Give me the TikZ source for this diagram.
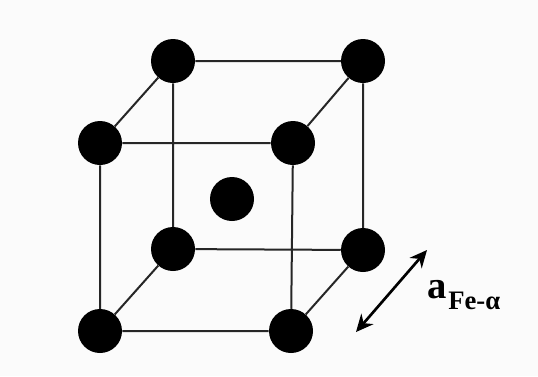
\documentclass[tikz,border=0pt]{standalone}
\usepackage{amsmath}
\usepackage{fontspec}
\setmainfont{Liberation Serif}
\usetikzlibrary{arrows.meta}
\definecolor{paper}{HTML}{FBFBFB}
\tikzset{atom/.style={circle,fill=black,draw=none,minimum size=44pt*0.75,inner sep=0pt},
bond/.style={draw=black!85,line width=1.5pt}}
\begin{document}
\begin{tikzpicture}[x=1pt,y=-1pt,xscale=0.75,yscale=0.75]
\useasboundingbox (0,0) rectangle (538,376);
\fill[paper] (0,0) rectangle (538,376);
\node[atom] (a) at (173,61) {};
\node[atom] (b) at (363,61) {};
\node[atom] (c) at (100,143) {};
\node[atom] (d) at (293,143) {};
\node[atom] (e) at (173,249) {};
\node[atom] (f) at (363,250) {};
\node[atom] (g) at (100,331) {};
\node[atom] (h) at (291,331) {};
\node[atom] (m) at (232,199) {};
\draw[bond] (a)--(b) (a)--(c) (b)--(d) (c)--(d) (a)--(e) (b)--(f) (c)--(g) (d)--(h) (e)--(f) (e)--(g) (f)--(h) (g)--(h);
\coordinate (p) at (427,250);
\coordinate (q) at (356,332);
\draw[line width=2pt,black,{Stealth[length=13pt,width=12pt]}-{Stealth[length=13pt,width=12pt]}] (p)--(q);
\node[anchor=base west,inner sep=0pt,font=\bfseries] (l) at (427,298) {\fontsize{29}{29}\selectfont a};
\node[anchor=base west,inner sep=0pt,font=\bfseries] (s) at (448,309) {\fontsize{20}{20}\selectfont Fe-α};
\end{tikzpicture}
\end{document}
